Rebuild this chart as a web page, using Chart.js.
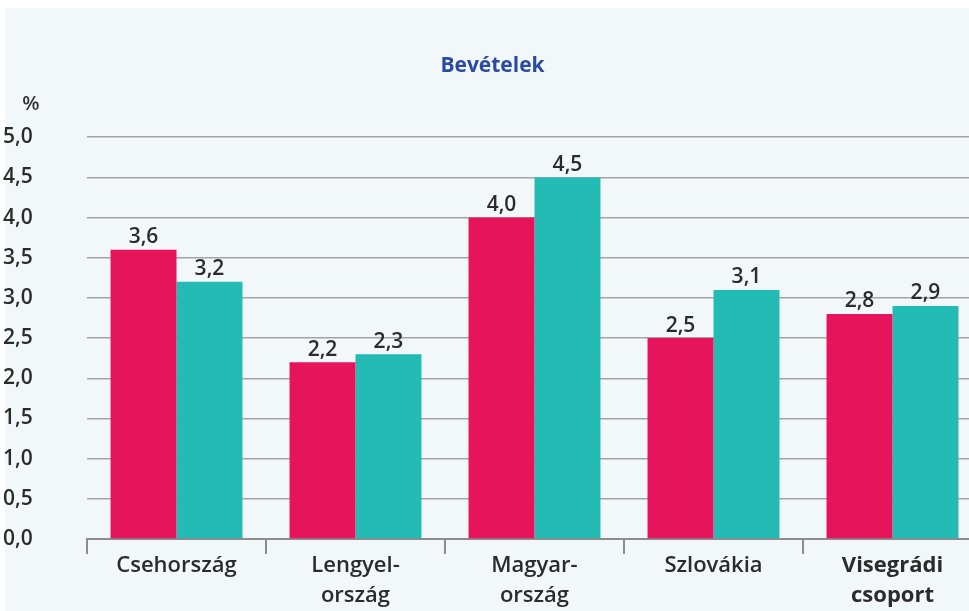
<!DOCTYPE html>
<html>
<head>
<meta charset="utf-8">
<script src="https://cdn.jsdelivr.net/npm/chart.js@4.4.1/dist/chart.umd.min.js"></script>
<style>
  html, body { margin: 0; padding: 0; background: #ffffff; overflow: hidden; }
  canvas { display: block; }
</style>
</head>
<body>
<canvas id="myChart" width="1000" height="611"></canvas>
<script>
// chart data
const categories = [
  ["Csehország"],
  ["Lengyel-", "ország"],
  ["Magyar-", "ország"],
  ["Szlovákia"],
  ["Visegrádi", "csoport"],
];
const seriesPink = [3.6, 2.2, 4.0, 2.5, 2.8];
const seriesTeal = [3.2, 2.3, 4.5, 3.1, 2.9];
const yTicks = [0, 0.5, 1, 1.5, 2, 2.5, 3, 3.5, 4, 4.5, 5];

const fontFamily = "'Open Sans', 'DejaVu Sans', sans-serif";
const formatHu = (v) => v.toFixed(1).replace(".", ",");

// light panel behind the chart
const panelBackground = {
  id: "panelBackground",
  beforeDraw(chart) {
    const ctx = chart.ctx;
    ctx.save();
    ctx.fillStyle = "#f2f7fa";
    ctx.fillRect(5, 8, chart.width - 5, chart.height - 8);
    ctx.restore();
  },
};

// "%" unit above the y axis
const unitLabel = {
  id: "unitLabel",
  afterDraw(chart) {
    const ctx = chart.ctx;
    ctx.save();
    ctx.font = "600 20px " + fontFamily;
    ctx.fillStyle = "#333333";
    ctx.textAlign = "center";
    ctx.textBaseline = "middle";
    ctx.fillText("%", 31, 104);
    ctx.restore();
  },
};

// value labels over bars
const valueLabels = {
  id: "valueLabels",
  afterDatasetsDraw(chart) {
    const ctx = chart.ctx;
    ctx.save();
    ctx.font = "600 21px " + fontFamily;
    ctx.fillStyle = "#2b2b2b";
    ctx.textAlign = "center";
    ctx.textBaseline = "bottom";
    chart.data.datasets.forEach((ds, i) => {
      chart.getDatasetMeta(i).data.forEach((bar, j) => {
        ctx.fillText(formatHu(ds.data[j]), bar.x, bar.y - 2);
      });
    });
    ctx.restore();
  },
};

const ctx = document.getElementById("myChart").getContext("2d");

new Chart(ctx, {
  type: "bar",
  data: {
    labels: categories,
    datasets: [
      {
        label: "A",
        data: seriesPink,
        backgroundColor: "#e5145b",
        categoryPercentage: 0.737,
        barPercentage: 1,
      },
      {
        label: "B",
        data: seriesTeal,
        backgroundColor: "#25bbb5",
        categoryPercentage: 0.737,
        barPercentage: 1,
      },
    ],
  },
  options: {
    responsive: false,
    animation: false,
    layout: { padding: { left: 3, right: 18, top: 0, bottom: 0 } },
    plugins: {
      legend: { display: false },
      tooltip: { enabled: false },
      title: {
        display: true,
        text: "Bevételek",
        color: "#2b4ba3",
        font: { family: fontFamily, size: 21, weight: "bold", lineHeight: 1.2 },
        padding: { top: 53, bottom: 59 },
      },
    },
    scales: {
      x: {
        grid: {
          offset: true,
          drawOnChartArea: false,
          drawTicks: true,
          tickLength: 15,
          color: "#8c8c8c",
          lineWidth: 2,
        },
        border: { display: true, color: "#8c8c8c", width: 2 },
        ticks: {
          color: "#2b2b2b",
          padding: -3,
          maxRotation: 0,
          autoSkip: false,
          font: (c) => ({
            family: fontFamily,
            size: 22,
            weight: c.index === 4 ? "bold" : "600",
            lineHeight: 1.35,
          }),
        },
        afterFit: (scale) => { scale.height = 72; },
      },
      y: {
        min: 0,
        max: 5,
        afterBuildTicks: (scale) => { scale.ticks = yTicks.map((v) => ({ value: v })); },
        grid: { drawTicks: false, color: "#a3a3a3", lineWidth: 1.5 },
        border: { display: false },
        ticks: {
          crossAlign: "far",
          color: "#2b2b2b",
          font: { family: fontFamily, size: 21, weight: "600" },
          callback: (v) => formatHu(v),
        },
        afterFit: (scale) => { scale.width = 84; },
      },
    },
  },
  plugins: [panelBackground, unitLabel, valueLabels],
});
</script>
</body>
</html>
